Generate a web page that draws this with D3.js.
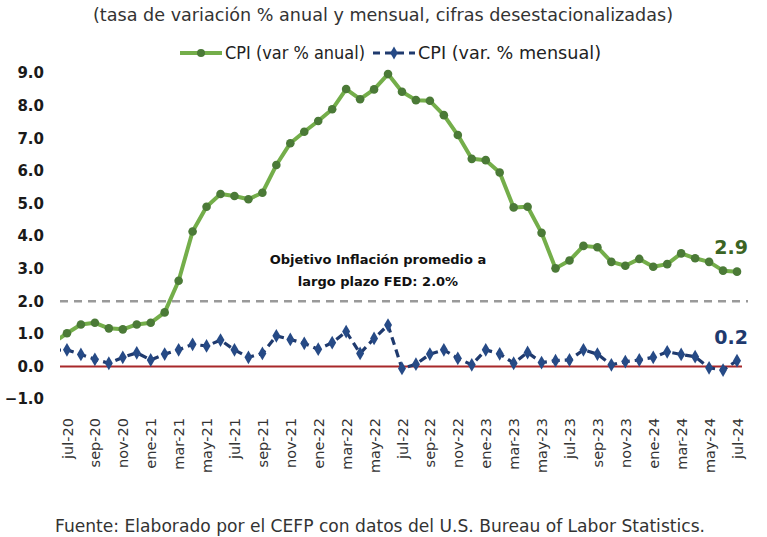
<!DOCTYPE html>
<html>
<head>
<meta charset="utf-8">
<script src="https://cdn.jsdelivr.net/npm/d3@7"></script>
<style>
  html, body { margin: 0; padding: 0; background: #fff; }
  svg { display: block; }
</style>
</head>
<body>
<script>
// months: first one (jun-20) sits just outside the plot and is clipped
var months = ['jun-20',
  'jul-20','ago-20','sep-20','oct-20','nov-20','dic-20',
  'ene-21','feb-21','mar-21','abr-21','may-21','jun-21','jul-21','ago-21','sep-21','oct-21','nov-21','dic-21',
  'ene-22','feb-22','mar-22','abr-22','may-22','jun-22','jul-22','ago-22','sep-22','oct-22','nov-22','dic-22',
  'ene-23','feb-23','mar-23','abr-23','may-23','jun-23','jul-23','ago-23','sep-23','oct-23','nov-23','dic-23',
  'ene-24','feb-24','mar-24','abr-24','may-24','jun-24','jul-24'];

var cpiAnual = [0.72,
  1.02, 1.29, 1.34, 1.17, 1.14, 1.29,
  1.34, 1.66, 2.63, 4.14, 4.90, 5.29, 5.23, 5.13, 5.33, 6.18, 6.85, 7.20,
  7.53, 7.89, 8.51, 8.20, 8.50, 8.97, 8.43, 8.17, 8.15, 7.71, 7.10, 6.37,
  6.33, 5.95, 4.88, 4.90, 4.10, 3.01, 3.25, 3.70, 3.66, 3.21, 3.09, 3.30,
  3.06, 3.14, 3.47, 3.32, 3.21, 2.94, 2.91];

var cpiMensual = [0.50,
  0.51, 0.37, 0.22, 0.10, 0.28, 0.42,
  0.20, 0.38, 0.51, 0.68, 0.63, 0.81, 0.51, 0.28, 0.40, 0.94, 0.83, 0.71,
  0.53, 0.73, 1.07, 0.40, 0.86, 1.27, -0.06, 0.07, 0.38, 0.51, 0.25, 0.05,
  0.51, 0.39, 0.10, 0.43, 0.12, 0.18, 0.20, 0.51, 0.38, 0.05, 0.15, 0.20,
  0.28, 0.45, 0.37, 0.30, -0.04, -0.11, 0.18];

var tickLabels = ['jul-20','sep-20','nov-20','ene-21','mar-21','may-21','jul-21','sep-21','nov-21',
  'ene-22','mar-22','may-22','jul-22','sep-22','nov-22','ene-23','mar-23','may-23','jul-23',
  'sep-23','nov-23','ene-24','mar-24','may-24','jul-24'];

var yTicks = [-1, 0, 1, 2, 3, 4, 5, 6, 7, 8, 9];
var fedTarget = 2.0;

var W = 767, H = 537;
var greenLine = '#74ae4a', greenDot = '#4b7a37', greenText = '#3b6424';
var navy = '#1f3a6e', navyDot = '#264a86';
var font = "'DejaVu Sans', sans-serif";

var svg = d3.select('body').append('svg').attr('width', W).attr('height', H);

var x = d3.scalePoint().domain(months).range([53, 737]);
var y = d3.scaleLinear().domain([-1, 9]).range([399.1, 73.1]);

svg.append('clipPath').attr('id', 'plot')
  .append('rect').attr('x', 60).attr('y', 40).attr('width', 700).attr('height', 380);

// subtitle
svg.append('text').attr('x', 93).attr('y', 21)
  .attr('textLength', 580).attr('lengthAdjust', 'spacingAndGlyphs')
  .style('font-family', font).style('font-size', '17px').style('fill', '#333')
  .text('(tasa de variación % anual y mensual, cifras desestacionalizadas)');

// legend
var lg = svg.append('g');
lg.append('line').attr('x1', 180).attr('x2', 222).attr('y1', 53).attr('y2', 53)
  .attr('stroke', greenLine).attr('stroke-width', 4);
lg.append('circle').attr('cx', 201).attr('cy', 53).attr('r', 4).attr('fill', greenDot);
lg.append('text').attr('x', 225).attr('y', 59).attr('textLength', 140).attr('lengthAdjust', 'spacingAndGlyphs')
  .style('font-family', font).style('font-size', '17px')
  .style('fill', '#222').text('CPI (var % anual)');
lg.append('line').attr('x1', 373).attr('x2', 415).attr('y1', 53).attr('y2', 53)
  .attr('stroke', navy).attr('stroke-width', 3).attr('stroke-dasharray', '7,5');
lg.append('path').attr('d', d3.symbol(d3.symbolDiamond, 50)()).attr('transform', 'translate(394,53)')
  .attr('fill', navyDot);
lg.append('text').attr('x', 418).attr('y', 59).attr('textLength', 183).attr('lengthAdjust', 'spacingAndGlyphs')
  .style('font-family', font).style('font-size', '17px')
  .style('fill', '#222').text('CPI (var. % mensual)');

// y axis labels
var yAxis = svg.append('g').attr('transform', 'translate(44,0)')
  .call(d3.axisLeft(y).tickValues(yTicks).tickSize(0).tickPadding(0).tickFormat(d3.format('.1f')));
yAxis.select('.domain').remove();
yAxis.selectAll('text').style('font-family', font).style('font-size', '15px')
  .style('font-weight', 'bold').style('fill', '#1a1a1a');

// x axis labels
var xAxis = svg.append('g').attr('transform', 'translate(0,414)')
  .call(d3.axisBottom(x).tickValues(tickLabels).tickSize(0).tickPadding(0));
xAxis.select('.domain').remove();
xAxis.selectAll('text').attr('transform', 'rotate(-90)').attr('text-anchor', 'end')
  .attr('x', -4).attr('y', 0).attr('dy', '0.35em')
  .style('font-family', font).style('font-size', '14.5px').style('fill', '#333');

// zero line and FED target
svg.append('line').attr('x1', 60).attr('x2', 742).attr('y1', y(0)).attr('y2', y(0))
  .attr('stroke', '#a8282a').attr('stroke-width', 2);
svg.append('line').attr('x1', 60).attr('x2', 748).attr('y1', y(fedTarget)).attr('y2', y(fedTarget))
  .attr('stroke', '#9a9a9a').attr('stroke-width', 2.5).attr('stroke-dasharray', '8,6');

var plot = svg.append('g').attr('clip-path', 'url(#plot)');

var line = d3.line().x(function(d, i) { return x(months[i]); }).y(function(d) { return y(d); });

plot.append('path').datum(cpiMensual).attr('d', line).attr('fill', 'none')
  .attr('stroke', navy).attr('stroke-width', 3.2).attr('stroke-dasharray', '8,5');
plot.selectAll('.dm').data(cpiMensual).enter().append('path').attr('class', 'dm')
  .attr('d', d3.symbol(d3.symbolDiamond, 55)())
  .attr('transform', function(d, i) { return 'translate(' + x(months[i]) + ',' + y(d) + ')'; })
  .attr('fill', navyDot);

plot.append('path').datum(cpiAnual).attr('d', line).attr('fill', 'none')
  .attr('stroke', greenLine).attr('stroke-width', 4).attr('stroke-linejoin', 'round');
plot.selectAll('.ga').data(cpiAnual).enter().append('circle').attr('class', 'ga')
  .attr('cx', function(d, i) { return x(months[i]); }).attr('cy', function(d) { return y(d); })
  .attr('r', 4.3).attr('fill', greenDot);

// end labels
var last = months.length - 1;
svg.append('text').attr('x', x(months[last]) + 11).attr('y', y(cpiAnual[last]) - 18).attr('text-anchor', 'end')
  .style('font-family', font).style('font-size', '19px').style('font-weight', 'bold')
  .style('fill', greenText).text(d3.format('.1f')(cpiAnual[last]));
svg.append('text').attr('x', x(months[last]) + 11).attr('y', y(cpiMensual[last]) - 17).attr('text-anchor', 'end')
  .style('font-family', font).style('font-size', '19px').style('font-weight', 'bold')
  .style('fill', navy).text(d3.format('.1f')(cpiMensual[last]));

// FED annotation
var note = svg.append('text').attr('text-anchor', 'middle')
  .style('font-family', font).style('font-size', '13px').style('font-weight', 'bold').style('fill', '#111');
note.append('tspan').attr('x', 378).attr('y', 264).text('Objetivo Inflación promedio a');
note.append('tspan').attr('x', 378).attr('y', 286).text('largo plazo FED: 2.0%');

// source
svg.append('text').attr('x', 55).attr('y', 532)
  .attr('textLength', 650).attr('lengthAdjust', 'spacingAndGlyphs')
  .style('font-family', font).style('font-size', '17px').style('fill', '#333')
  .text('Fuente: Elaborado por el CEFP con datos del U.S. Bureau of Labor Statistics.');
</script>
</body>
</html>
